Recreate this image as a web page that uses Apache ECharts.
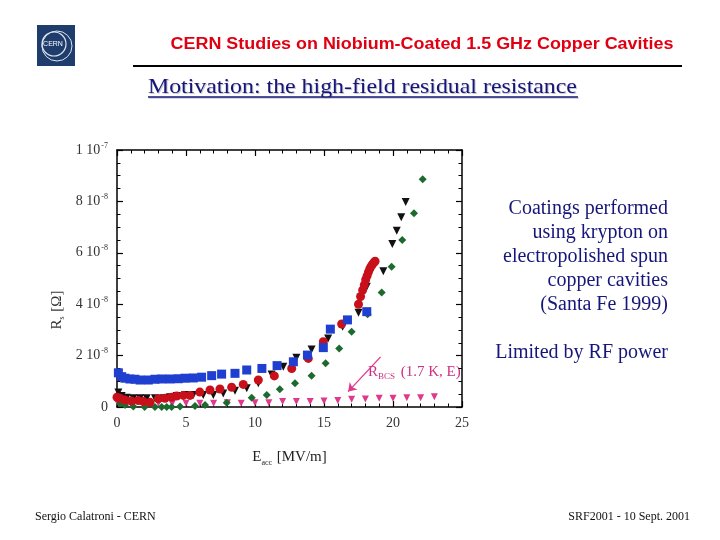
<!DOCTYPE html>
<html>
<head>
<meta charset="utf-8">
<script src="https://cdn.jsdelivr.net/npm/echarts@6/dist/echarts.min.js"></script>
<style>
  html, body { margin: 0; padding: 0; background: #fff; }
  #chart { width: 720px; height: 540px; }
</style>
</head>
<body>
<div id="chart"></div>
<script>
// Rs in units of 1e-8 Ohm, Eacc in MV/m
const blueE = [0.1, 0.34, 0.58, 0.94, 1.3, 1.67, 2.27, 2.75, 3.24, 3.84, 4.44, 4.93, 5.53, 6.13, 6.86, 7.58, 8.55, 9.4, 10.5, 11.6, 12.78, 13.8, 14.95, 15.46, 16.7, 18.1];
const blueR = [1.33, 1.18, 1.12, 1.09, 1.08, 1.05, 1.05, 1.08, 1.09, 1.09, 1.10, 1.12, 1.13, 1.16, 1.22, 1.28, 1.31, 1.44, 1.5, 1.61, 1.76, 2.02, 2.31, 3.03, 3.39, 3.71];

const redE = [0, 0.22, 0.58, 1.06, 1.55, 1.91, 2.39, 3.0, 3.48, 3.96, 4.32, 4.81, 5.29, 6.0, 6.74, 7.46, 8.31, 9.15, 10.24, 11.4, 12.66, 13.86, 14.95, 16.28, 17.5, 17.65, 17.8, 17.92, 18.02, 18.12, 18.22, 18.32, 18.42, 18.52, 18.62, 18.7];
const redR = [0.38, 0.34, 0.27, 0.23, 0.25, 0.21, 0.18, 0.32, 0.34, 0.38, 0.43, 0.45, 0.45, 0.58, 0.66, 0.70, 0.77, 0.88, 1.05, 1.21, 1.5, 1.89, 2.54, 3.23, 4.0, 4.3, 4.55, 4.75, 4.95, 5.1, 5.25, 5.38, 5.48, 5.56, 5.62, 5.67];

const blackE = [0.1, 0.34, 0.7, 1.18, 1.67, 2.15, 2.75, 3.36, 3.84, 4.32, 4.93, 5.53, 6.25, 6.98, 7.7, 8.55, 9.4, 10.24, 11.2, 12.05, 13.0, 14.1, 15.3, 16.35, 17.5, 18.1, 19.3, 19.95, 20.27, 20.6, 20.92];
const blackR = [0.56, 0.43, 0.36, 0.34, 0.34, 0.34, 0.34, 0.34, 0.38, 0.43, 0.47, 0.47, 0.47, 0.47, 0.53, 0.63, 0.73, 0.92, 1.26, 1.57, 1.92, 2.24, 2.67, 3.12, 3.67, 4.68, 5.28, 6.34, 6.86, 7.38, 7.98];

const greenE = [0.22, 0.58, 1.18, 2.0, 2.75, 3.24, 3.6, 3.96, 4.57, 5.65, 6.38, 7.95, 9.76, 10.85, 11.8, 12.9, 14.1, 15.12, 16.1, 17.0, 18.16, 19.18, 19.9, 20.67, 21.52, 22.15];
const greenR = [0.14, 0.08, 0.02, 0, 0, 0, 0, 0, 0.02, 0.04, 0.08, 0.17, 0.36, 0.47, 0.69, 0.92, 1.22, 1.70, 2.28, 2.93, 3.61, 4.46, 5.46, 6.5, 7.54, 8.86];

const bcsE = [0, 1, 2, 3, 4, 5, 6, 7, 8, 9, 10, 11, 12, 13, 14, 15, 16, 17, 18, 19, 20, 21, 22, 23];
const bcsR = [0.2, 0.15, 0.15, 0.15, 0.13, 0.15, 0.15, 0.15, 0.17, 0.15, 0.17, 0.17, 0.21, 0.21, 0.21, 0.23, 0.25, 0.30, 0.31, 0.34, 0.34, 0.36, 0.36, 0.40];

const xTicks = [0, 5, 10, 15, 20, 25];
const yTickLabels = { 0: '0', 2: '2 10{s|-8}', 4: '4 10{s|-8}', 6: '6 10{s|-8}', 8: '8 10{s|-8}', 10: '1 10{s|-7}' };

const serif = '"Liberation Serif", "DejaVu Serif", serif';
const sans = '"Liberation Sans", Arial, sans-serif';
const navy = '#16167a';

const pairs = (xs, ys) => xs.map((x, i) => [x, ys[i]]);

const chart = echarts.init(document.getElementById('chart'), null, { renderer: 'canvas' });

const axisCommon = {
  axisLine: { onZero: false, lineStyle: { color: '#000', width: 1.5 } },
  axisTick: { inside: true, length: 6, lineStyle: { color: '#000', width: 1.2 } },
  minorTick: { show: true, length: 3.5, lineStyle: { color: '#000', width: 1 } },
  splitLine: { show: false },
};

const scatter = (name, data, symbol, size, color, extra) => Object.assign({
  type: 'scatter',
  name,
  data,
  symbol,
  symbolSize: size,
  itemStyle: { color, opacity: 1 },
  silent: true,
}, extra || {});

chart.setOption({
  animation: false,
  backgroundColor: '#fff',
  grid: { left: 117, right: 258, top: 150, bottom: 133 },
  xAxis: [
    Object.assign({}, axisCommon, {
      type: 'value', min: 0, max: 25, interval: 5,
      minorTick: Object.assign({}, axisCommon.minorTick, { splitNumber: 5 }),
      axisLabel: {
        fontFamily: serif, fontSize: 14, color: '#333', margin: 9,
        formatter: v => xTicks.includes(v) ? String(v) : ''
      },
      name: 'E{s|acc} [MV/m]',
      nameLocation: 'middle',
      nameGap: 40,
      nameTextStyle: {
        fontFamily: serif, fontSize: 15, color: '#222',
        rich: { s: { fontFamily: serif, fontSize: 8, color: '#222', padding: [12, 1, 0, 0] } }
      },
    }),
    Object.assign({}, axisCommon, {
      type: 'value', min: 0, max: 25, interval: 5, position: 'top',
      minorTick: Object.assign({}, axisCommon.minorTick, { splitNumber: 5 }),
      axisLabel: { show: false },
    }),
  ],
  yAxis: [
    Object.assign({}, axisCommon, {
      type: 'value', min: 0, max: 10, interval: 2,
      minorTick: Object.assign({}, axisCommon.minorTick, { splitNumber: 4 }),
      axisLabel: {
        fontFamily: serif, fontSize: 14, color: '#333', margin: 9,
        formatter: v => yTickLabels[v] || '',
        rich: { s: { fontFamily: serif, fontSize: 8, color: '#333', padding: [0, 0, 9, 1] } }
      },
    }),
    Object.assign({}, axisCommon, {
      type: 'value', min: 0, max: 10, interval: 2, position: 'right',
      minorTick: Object.assign({}, axisCommon.minorTick, { splitNumber: 4 }),
      axisLabel: { show: false },
    }),
  ],
  series: [
    scatter('BCS', pairs(bcsE, bcsR), 'triangle', 7, '#e0388c', {
      symbolRotate: 180,
      markLine: {
        silent: true,
        symbol: ['none', 'arrow'],
        symbolSize: 8,
        label: { show: false },
        lineStyle: { color: '#e0388c', width: 1.3, type: 'solid' },
        data: [[{ coord: [19.1, 1.95] }, { coord: [16.75, 0.6] }]],
      },
    }),
    scatter('green', pairs(greenE, greenR), 'diamond', 8, '#1d6a2e'),
    scatter('black', pairs(blackE, blackR), 'triangle', 8, '#111111', { symbolRotate: 180 }),
    scatter('red', pairs(redE, redR), 'circle', 9, '#c8101a'),
    scatter('blue', pairs(blueE, blueR), 'rect', 9, '#1f3fd0'),
    // empty series so the mirrored top/right frame axes are active
    { type: 'scatter', data: [], xAxisIndex: 1, yAxisIndex: 1, silent: true },
  ],
  graphic: [
    // CERN logo block
    { type: 'rect', shape: { x: 37, y: 25, width: 38, height: 41 }, style: { fill: '#1e3d6d' } },
    { type: 'circle', shape: { cx: 54, cy: 44, r: 12 }, style: { fill: 'none', stroke: '#dfe6f0', lineWidth: 1.2 } },
    { type: 'circle', shape: { cx: 57, cy: 46, r: 15 }, style: { fill: 'none', stroke: '#dfe6f0', lineWidth: 1 } },
    { type: 'text', style: { x: 53, y: 44, text: 'CERN', fontSize: 7, fontFamily: sans, fill: '#fff', align: 'center', verticalAlign: 'middle' } },
    // header
    { type: 'text', x: 422, y: 45, scaleX: 1.12, style: { x: 0, y: 0, text: 'CERN Studies on Niobium-Coated 1.5 GHz Copper Cavities', fontSize: 16, fontWeight: 'bold', fontFamily: sans, fill: '#e00012', align: 'center', verticalAlign: 'middle' } },
    { type: 'line', shape: { x1: 133, y1: 66, x2: 682, y2: 66 }, style: { stroke: '#000', lineWidth: 2 } },
    // subtitle with shadow and underline
    { type: 'text', x: 149, y: 88, scaleX: 1.135, style: { x: 0, y: 0, text: 'Motivation: the high-field residual resistance', fontSize: 21, fontFamily: serif, fill: '#c8c8d0', align: 'left', verticalAlign: 'middle' } },
    { type: 'text', x: 148, y: 87, scaleX: 1.135, style: { x: 0, y: 0, text: 'Motivation: the high-field residual resistance', fontSize: 21, fontFamily: serif, fill: navy, align: 'left', verticalAlign: 'middle' } },
    { type: 'line', shape: { x1: 149, y1: 98, x2: 579, y2: 98 }, style: { stroke: '#c8c8d0', lineWidth: 1.5 } },
    { type: 'line', shape: { x1: 148, y1: 97, x2: 578, y2: 97 }, style: { stroke: navy, lineWidth: 1.5 } },
    // right text
    { type: 'text', style: { x: 668, y: 197, text: 'Coatings performed\nusing krypton on\nelectropolished spun\ncopper cavities\n(Santa Fe 1999)', fontSize: 20, lineHeight: 24, fontFamily: serif, fill: navy, align: 'right', verticalAlign: 'top' } },
    { type: 'text', style: { x: 668, y: 353, text: 'Limited by RF power', fontSize: 20, fontFamily: serif, fill: navy, align: 'right', verticalAlign: 'middle' } },
    // y axis name
    {
      type: 'text', x: 57, y: 310, rotation: Math.PI / 2,
      style: {
        text: 'R{s|s} [Ω]', fontSize: 15, fontFamily: serif, fill: '#333', align: 'center', verticalAlign: 'middle',
        rich: { s: { fontSize: 8, fontFamily: serif, fill: '#333', padding: [10, 1, 0, 0] } }
      }
    },
    // BCS annotation
    {
      type: 'text', x: 368, y: 372,
      style: {
        text: 'R{s|BCS} (1.7 K, E)', fontSize: 15, fontFamily: serif, fill: '#d03080', align: 'left', verticalAlign: 'middle',
        rich: { s: { fontSize: 9, fontFamily: serif, fill: '#d03080', padding: [10, 2, 0, 0] } }
      }
    },
    // footer
    { type: 'text', style: { x: 35, y: 517, text: 'Sergio Calatroni - CERN', fontSize: 12, fontFamily: serif, fill: '#111', align: 'left', verticalAlign: 'middle' } },
    { type: 'text', style: { x: 690, y: 517, text: 'SRF2001 - 10 Sept. 2001', fontSize: 12, fontFamily: serif, fill: '#111', align: 'right', verticalAlign: 'middle' } },
  ],
});
</script>
</body>
</html>
